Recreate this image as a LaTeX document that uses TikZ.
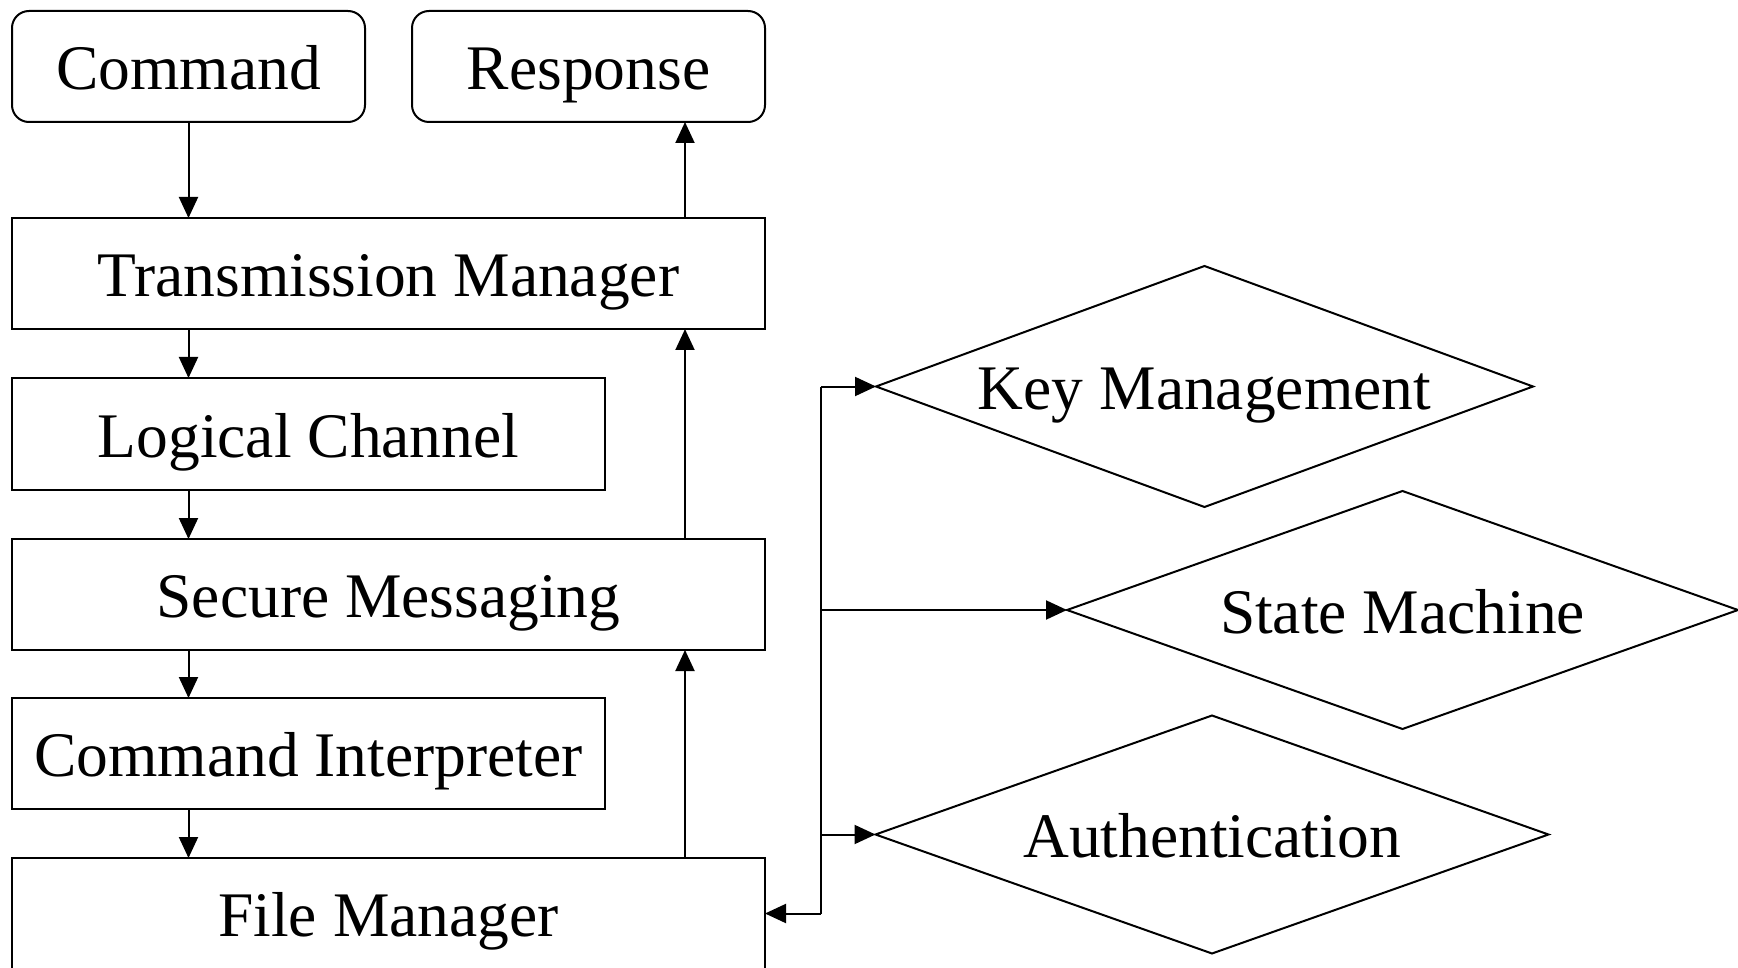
\documentclass[tikz,border=0pt]{standalone}
\usepackage{fontspec}
\setmainfont{Liberation Serif}
\usetikzlibrary{arrows.meta,shapes.geometric}
\begin{document}
\begin{tikzpicture}[x=1pt,y=-1pt,
  every node/.style={font=\fontsize{63.5}{70}\selectfont, inner sep=0pt, outer sep=0pt,
    text height=50pt, text depth=3.6pt},
  blk/.style={draw, line width=2pt, rectangle, minimum height=111pt},
  rblk/.style={blk, rounded corners=17pt},
  dia/.style={draw, line width=2pt, diamond, aspect=2.75},
  arr/.style={line width=2pt, -{Triangle[length=21pt,width=19pt]}},
  ln/.style={line width=2pt}]
\useasboundingbox (0,0) rectangle (1738,968);
\fill[white] (0,0) rectangle (1738,968);
% boxes
\node[rblk, minimum width=353pt] (cmd) at (188.5,66.5) {Command};
\node[rblk, minimum width=353pt] (resp) at (588.5,66.5) {Response};
\node[blk, minimum width=753pt] (tm) at (388.5,273.5) {Transmission Manager};
\node[blk, minimum width=593pt, minimum height=112pt] (lc) at (308.5,434) {Logical Channel};
\node[blk, minimum width=753pt] (sm) at (388.5,594.5) {Secure Messaging};
\node[blk, minimum width=593pt] (ci) at (308.5,753.5) {Command Interpreter};
\node[blk, minimum width=753pt] (fm) at (388.5,913.5) {File Manager};
% diamonds
\node[dia, minimum width=657pt, minimum height=241pt] (km) at (1204.5,386.5) {Key Management};
\node[dia, minimum width=671pt, minimum height=238pt] (stm) at (1402.5,610) {State Machine};
\node[dia, minimum width=673pt, minimum height=238pt] (au) at (1212,834.5) {Authentication};
% helper coordinates
\coordinate (dx) at (188.5,0);
\coordinate (ux) at (685,0);
\coordinate (jt) at (821,386.5);
\coordinate (jb) at (821,913.5);
% downward flow
\draw[arr] (cmd.south) -- (cmd.south |- tm.north);
\draw[arr] (tm.south -| dx) -- (lc.north -| dx);
\draw[arr] (lc.south -| dx) -- (sm.north -| dx);
\draw[arr] (sm.south -| dx) -- (ci.north -| dx);
\draw[arr] (ci.south -| dx) -- (fm.north -| dx);
% upward flow
\draw[arr] (tm.north -| ux) -- (resp.south -| ux);
\draw[arr] (sm.north -| ux) -- (tm.south -| ux);
\draw[arr] (fm.north -| ux) -- (sm.south -| ux);
% right-hand bus
\draw[ln] (jt) -- (jb);
\draw[arr] (jt) -- (km.west);
\draw[arr] (jt |- stm.west) -- (stm.west);
\draw[arr] (jt |- au.west) -- (au.west);
\draw[arr] (jb) -- (fm.east);
\end{tikzpicture}
\end{document}
